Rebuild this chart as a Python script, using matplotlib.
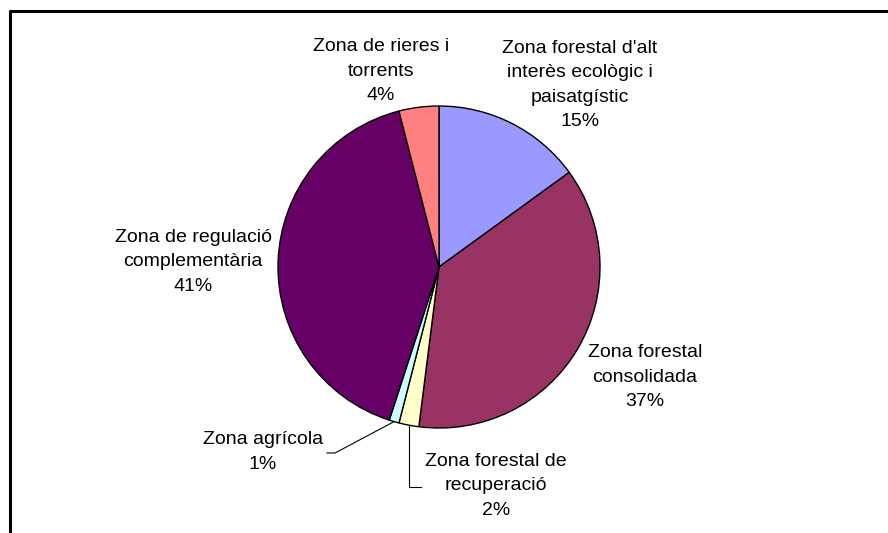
import numpy as np
import matplotlib.pyplot as plt

# dades de la zonificació
labels = ["Zona forestal d'alt\ninterès ecològic i\npaisatgístic",
          "Zona forestal\nconsolidada",
          "Zona forestal de\nrecuperació",
          "Zona agrícola",
          "Zona de regulació\ncomplementària",
          "Zona de rieres i\ntorrents"]
values = [15, 37, 2, 1, 41, 4]
colors = ['#9999FF', '#993366', '#FFFFCC', '#CCFFFF', '#660066', '#FF8080']

W, H = 888, 533
fig = plt.figure(figsize=(W / 100, H / 100), dpi=100)
ax = fig.add_axes([0, 0, 1, 1])

cx, cy, r = 439, H - 267, 161
wedges, _ = ax.pie(values, colors=colors, startangle=90, counterclock=False,
                   center=(cx, cy), radius=r, frame=True,
                   wedgeprops=dict(edgecolor='black', linewidth=1.0))
ax.set_xlim(0, W)
ax.set_ylim(0, H)
ax.set_aspect('equal')
ax.axis('off')

# outer frame (only left and top visible)
ax.plot([10, 10, W], [0, H - 11, H - 11], color='black', lw=2.2, clip_on=False)

# label positions (px, from top)
pos = [(580, 85), (645, 377), (496, 486), (263, 452), (193, 262), (381, 71)]
font = dict(family='Liberation Sans', fontsize=14, ha='center', va='center',
            linespacing=1.55)
for lab, v, (x, y) in zip(labels, values, pos):
    ax.text(x, H - y, f"{lab}\n{v}%", **font)

# leader lines for the small slices
def edge_point(i):
    w = wedges[i]
    a = np.deg2rad((w.theta1 + w.theta2) / 2)
    return cx + r * np.cos(a), cy + r * np.sin(a)

ex, ey = edge_point(2)
ax.plot([ex, ex, 421], [ey, H - 487, H - 487], color='black', lw=0.8)
ex, ey = edge_point(3)
ax.plot([ex, 335, 327], [ey, H - 453, H - 453], color='black', lw=0.8)

fig.savefig('out.png', dpi=100, facecolor='white')
